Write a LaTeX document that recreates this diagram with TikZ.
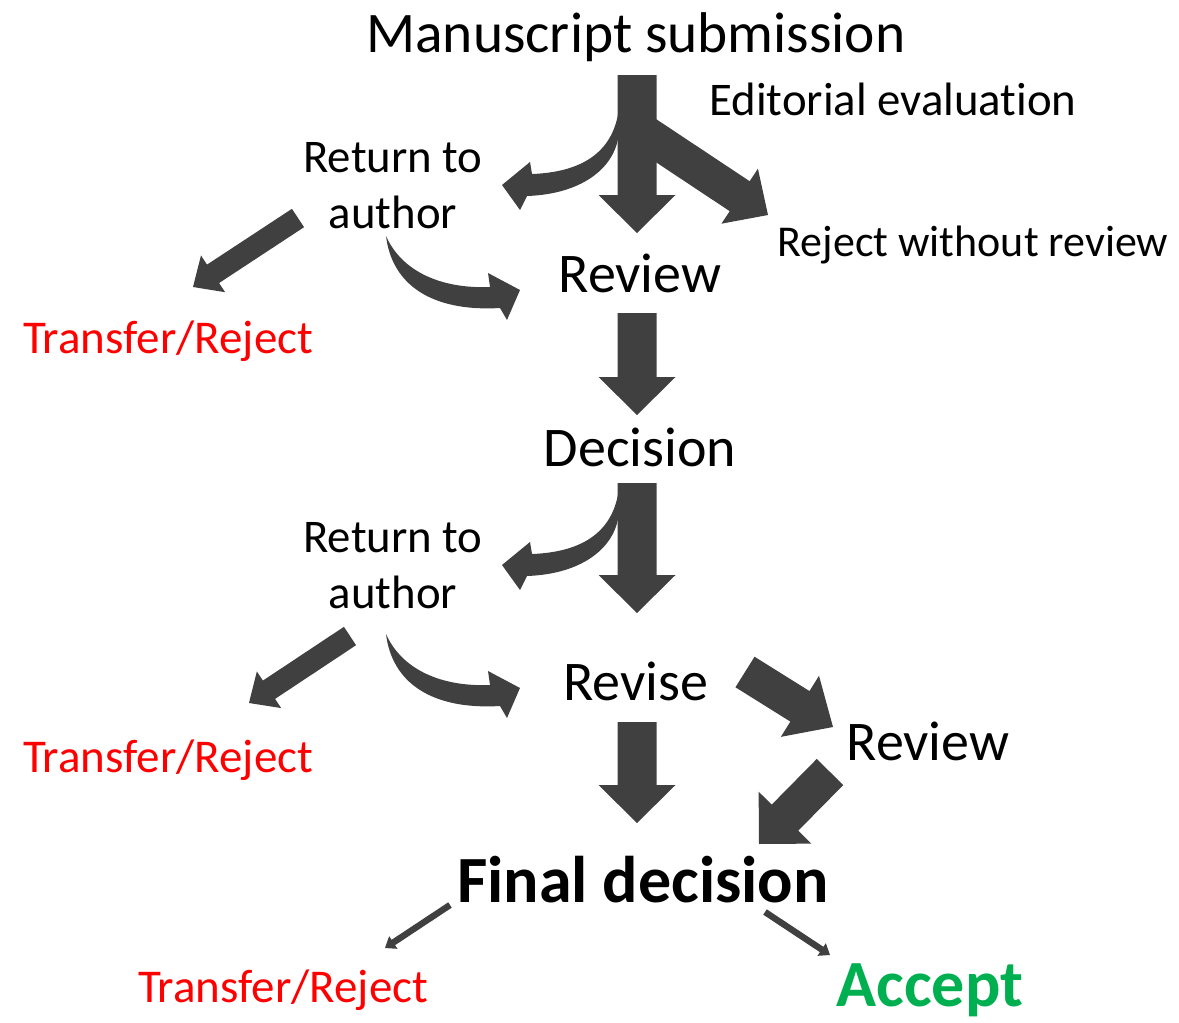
\documentclass[tikz,border=0pt]{standalone}
\usepackage{fontspec}
\setmainfont{Carlito}[RawFeature={-liga;-clig;-dlig}]
\usetikzlibrary{calc}
\definecolor{arrowgray}{RGB}{64,64,64}
\definecolor{rejectred}{RGB}{255,0,0}
\definecolor{acceptgreen}{RGB}{0,176,80}
\tikzset{
  bigtext/.style={font=\fontsize{28}{34}\selectfont, anchor=base, inner sep=0pt},
  midtext/.style={font=\fontsize{23.4}{28}\selectfont, anchor=base, inner sep=0pt},
  rejtext/.style={midtext, text=rejectred, font=\fontsize{23.5}{28}\selectfont},
  boldtext/.style={font=\fontsize{33}{40}\selectfont\bfseries, anchor=base, inner sep=0pt}
}
\newcommand{\fatarrow}[5]{%
  \coordinate (fa) at ($(#2)!#5!(#1)$);
  \fill[arrowgray] ($(#1)!#3!90:(#2)$) -- ($(fa)!#3!90:(#2)$) -- ($(fa)!#4!90:(#2)$) -- (#2)
    -- ($(fa)!#4!-90:(#2)$) -- ($(fa)!#3!-90:(#2)$) -- ($(#1)!#3!-90:(#2)$) -- cycle;}
\newcommand{\curlleft}{%
  \fill[arrowgray] (619,108) .. controls (614,150) and (585,172) .. (532,174) -- (530,162) -- (502,185)
    -- (520,210) -- (527,196) .. controls (585,194) and (618,165) .. (619,130) -- cycle;}
\newcommand{\curlright}{%
  \fill[arrowgray] (386,236) .. controls (402,272) and (442,289) .. (490,287) -- (488,273) -- (520,290)
    -- (507,320) -- (500,308) .. controls (432,312) and (392,285) .. (386,236) -- cycle;}

\begin{document}
\begin{tikzpicture}[x=0.5pt, y=-0.5pt]
	\useasboundingbox (0,0) rectangle (1179,1023);
	\node[bigtext, font=\fontsize{28.7}{34}\selectfont] (ms) at (636,52) {Manuscript submission};
	\node[midtext] (ee) at (893,115) {Editorial evaluation};
	\node[midtext] (ret1) at (393,172) {Return to};
	\node[midtext] (aut1) at (393,228) {author};
	\node[midtext, font=\fontsize{22}{26}\selectfont] (rwr) at (973,256) {Reject without review};
	\node[bigtext] (rev1) at (640,292) {Review};
	\node[rejtext] (tr1) at (168,353) {Transfer/Reject};
	\node[bigtext] (dec) at (640,466) {Decision};
	\node[midtext] (ret2) at (393,552) {Return to};
	\node[midtext] (aut2) at (393,608) {author};
	\node[bigtext] (rvs) at (636,700) {Revise};
	\node[bigtext] (rev2) at (928,760) {Review};
	\node[rejtext] (tr2) at (168,772) {Transfer/Reject};
	\node[boldtext] (fin) at (643,902) {Final decision};
	\node[rejtext] (tr3) at (283,1002) {Transfer/Reject};
	\node[boldtext, text=acceptgreen] (acc) at (930,1006) {Accept};
	\coordinate (ms-s) at (637,75);   \coordinate (ms-t) at (637,233);
	\coordinate (ee-s) at (640,130);  \coordinate (ee-t) at (768,215);
	\coordinate (rv-s) at (637,313);  \coordinate (rv-t) at (637,415);
	\coordinate (dc-s) at (637,483);  \coordinate (dc-t) at (637,613);
	\coordinate (rs-s) at (637,722);  \coordinate (rs-t) at (637,823);
	\coordinate (rr-s) at (745,672);  \coordinate (rr-t) at (833,727);
	\coordinate (rf-s) at (830,772);  \coordinate (rf-t) at (759,844);
	\coordinate (ra1-s) at (298,218); \coordinate (ra1-t) at (193,287);
	\coordinate (ra2-s) at (350,636); \coordinate (ra2-t) at (249,703);
	\coordinate (fd-l) at (450,905);  \coordinate (tr3-t) at (385,948);
	\coordinate (fd-r) at (765,912);  \coordinate (acc-t) at (830,955);
	\fatarrow{ms-s}{ms-t}{9.75pt}{19.25pt}{19pt}
	\fatarrow{ee-s}{ee-t}{9pt}{16.5pt}{17pt}
	\fatarrow{rv-s}{rv-t}{9.75pt}{19.25pt}{19pt}
	\fatarrow{dc-s}{dc-t}{9.75pt}{19.25pt}{19pt}
	\fatarrow{rs-s}{rs-t}{9.75pt}{19.25pt}{19pt}
	\fatarrow{rr-s}{rr-t}{9pt}{18pt}{19.5pt}
	\fatarrow{rf-s}{rf-t}{9.3pt}{18.5pt}{18.5pt}
	\fatarrow{ra1-s}{ra1-t}{5.5pt}{11pt}{12pt}
	\fatarrow{ra2-s}{ra2-t}{5.5pt}{11pt}{12pt}
	\fatarrow{fd-l}{tr3-t}{1.6pt}{3.8pt}{5pt}
	\fatarrow{fd-r}{acc-t}{1.6pt}{3.8pt}{5pt}
	\curlleft
	\curlright
	\begin{scope}[shift={(0,380)}]
		\curlleft
	\end{scope}
	\begin{scope}[shift={(0,398)}]
		\curlright
	\end{scope}
\end{tikzpicture}
\end{document}
